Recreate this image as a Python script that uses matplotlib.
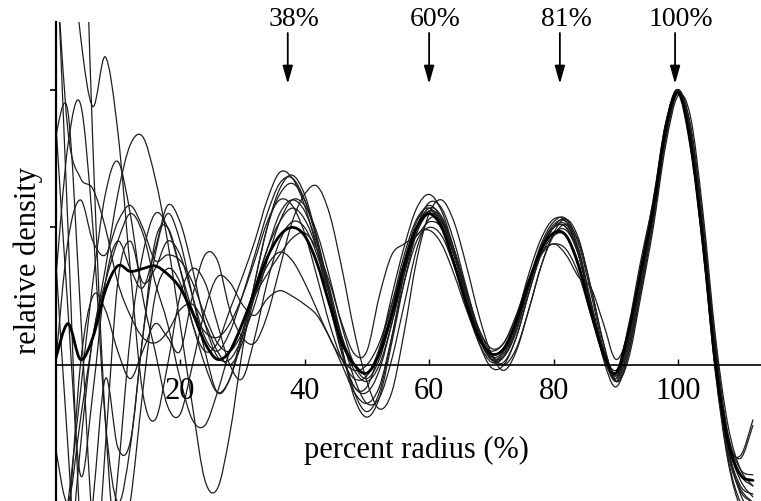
import numpy as np
import matplotlib
matplotlib.use('Agg')
import matplotlib.pyplot as plt
from matplotlib.path import Path
from matplotlib.patches import PathPatch

plt.rcParams['font.family'] = ['Liberation Serif', 'DejaVu Serif']

# sample positions (percent radius)
radius = np.arange(0, 113, 2)

# individual density profiles (every 2 %)
c01 = [1.6, 0.5, -0.6, -0.9, -0.3, 0.3, 0.45, 0.30, 0.35, 0.45, 0.40, 0.25, 0.10, 0.05, 0.12, 0.25,
       0.40, 0.55, 0.66, 0.68, 0.60, 0.45, 0.25, 0.05, -0.08, -0.08, 0.05, 0.25, 0.43, 0.57, 0.62, 0.56,
       0.42, 0.25, 0.10, 0.02, 0.05, 0.17, 0.33, 0.46, 0.53, 0.52, 0.40, 0.20, 0.03, -0.05, 0.10, 0.33,
       0.58, 0.87, 1.0, 0.82, 0.44, -0.02, -0.32, -0.46, -0.50]
c02 = [2.0, 1.7, 1.2, 0.94, 1.12, 0.85, 0.35, -0.10, -0.20, 0.00, 0.25, 0.35, 0.30, 0.15, 0.00, -0.05,
       0.10, 0.30, 0.45, 0.52, 0.50, 0.40, 0.25, 0.10, 0.00, -0.03, 0.05, 0.20, 0.38, 0.52, 0.58, 0.53,
       0.40, 0.24, 0.10, 0.03, 0.05, 0.15, 0.30, 0.43, 0.50, 0.50, 0.40, 0.22, 0.05, -0.02, 0.10, 0.33,
       0.57, 0.86, 1.0, 0.84, 0.47, 0.03, -0.28, -0.42, -0.48]
c03 = [3.0, 3.0, 2.2, 0.8, -0.2, -0.7, -0.5, -0.1, 0.25, 0.35, 0.30, 0.15, 0.00, -0.10, -0.05, 0.10,
       0.30, 0.50, 0.64, 0.69, 0.62, 0.46, 0.26, 0.06, -0.10, -0.17, -0.10, 0.10, 0.33, 0.50, 0.59, 0.57,
       0.45, 0.28, 0.12, 0.02, 0.01, 0.10, 0.26, 0.41, 0.50, 0.53, 0.44, 0.26, 0.06, -0.05, 0.06, 0.28,
       0.54, 0.83, 0.99, 0.86, 0.50, 0.06, -0.25, -0.38, -0.40]
c04 = [1.5, 0.85, 0.68, 0.64, 0.50, 0.30, 0.18, 0.10, 0.08, 0.12, 0.20, 0.22, 0.15, 0.05, 0.00, 0.08,
       0.25, 0.36, 0.41, 0.38, 0.30, 0.20, 0.10, 0.02, -0.02, 0.00, 0.08, 0.22, 0.37, 0.47, 0.49, 0.44,
       0.33, 0.20, 0.09, 0.05, 0.08, 0.18, 0.31, 0.41, 0.44, 0.42, 0.33, 0.18, 0.04, -0.03, 0.14, 0.38,
       0.60, 0.88, 0.99, 0.79, 0.42, -0.03, -0.35, -0.52, -0.58]
c05 = [0.83, 0.92, 0.2, -0.6, -0.8, -0.4, 0.1, 0.40, 0.55, 0.50, 0.35, 0.20, 0.12, 0.10, 0.15, 0.25,
       0.38, 0.52, 0.60, 0.58, 0.48, 0.32, 0.15, 0.02, -0.05, -0.04, 0.06, 0.22, 0.40, 0.53, 0.57, 0.51,
       0.37, 0.21, 0.08, 0.01, 0.03, 0.14, 0.29, 0.43, 0.51, 0.52, 0.42, 0.23, 0.05, -0.04, 0.09, 0.32,
       0.56, 0.85, 1.0, 0.83, 0.46, 0.01, -0.30, -0.44, -0.47]
c06 = [0.3, 0.8, 0.95, 0.5, -0.2, -0.5, -0.3, 0.1, 0.4, 0.55, 0.45, 0.25, 0.05, -0.10, -0.05, 0.12,
       0.28, 0.42, 0.52, 0.57, 0.53, 0.42, 0.26, 0.10, -0.02, -0.06, 0.00, 0.15, 0.33, 0.48, 0.55, 0.52,
       0.40, 0.25, 0.11, 0.04, 0.06, 0.16, 0.30, 0.42, 0.48, 0.49, 0.40, 0.22, 0.04, -0.06, 0.06, 0.30,
       0.55, 0.86, 1.0, 0.85, 0.48, 0.04, -0.28, -0.33, -0.20]
c07 = [-0.3, -0.5, -0.2, 0.1, 0.35, 0.62, 0.80, 0.83, 0.68, 0.45, 0.15, -0.15, -0.42, -0.45, -0.25, 0.05,
       0.30, 0.50, 0.62, 0.66, 0.60, 0.46, 0.27, 0.06, -0.12, -0.19, -0.12, 0.08, 0.30, 0.48, 0.56, 0.53,
       0.42, 0.27, 0.12, 0.03, 0.03, 0.12, 0.28, 0.42, 0.50, 0.50, 0.40, 0.22, 0.05, -0.03, 0.10, 0.32,
       0.56, 0.86, 1.0, 0.83, 0.46, 0.02, -0.30, -0.47, -0.55]
c08 = [-0.8, -0.5, -0.1, 0.3, 0.62, 0.74, 0.55, 0.25, 0.05, -0.15, -0.18, 0.0, 0.20, 0.32, 0.30, 0.22,
       0.18, 0.24, 0.27, 0.25, 0.22, 0.18, 0.10, 0.0, -0.10, -0.14, -0.08, 0.10, 0.30, 0.45, 0.50, 0.47,
       0.36, 0.22, 0.08, -0.01, 0.00, 0.10, 0.26, 0.40, 0.47, 0.47, 0.37, 0.20, 0.03, -0.05, 0.08, 0.31,
       0.56, 0.86, 1.0, 0.82, 0.45, 0.0, -0.32, -0.45, -0.50]
c09 = [0.4, -0.3, -0.9, -0.5, -0.05, -0.30, -0.28, 0.10, 0.45, 0.50, 0.35, 0.15, 0.05, 0.08, 0.20, 0.32,
       0.45, 0.60, 0.70, 0.68, 0.58, 0.42, 0.22, 0.04, -0.08, -0.10, -0.02, 0.15, 0.35, 0.50, 0.57, 0.54,
       0.42, 0.26, 0.11, 0.02, 0.03, 0.13, 0.28, 0.42, 0.50, 0.51, 0.41, 0.22, 0.04, -0.04, 0.08, 0.32,
       0.57, 0.87, 1.0, 0.84, 0.46, 0.02, -0.28, -0.40, -0.42]
c10 = [-1.0, -0.6, 0.0, 0.25, 0.2, 0.05, -0.05, 0.05, 0.15, 0.10, 0.05, 0.25, 0.40, 0.38, 0.20, 0.10,
       0.08, 0.18, 0.35, 0.52, 0.62, 0.65, 0.55, 0.35, 0.12, -0.06, -0.16, -0.10, 0.12, 0.38, 0.55, 0.60,
       0.52, 0.36, 0.18, 0.04, -0.02, 0.05, 0.20, 0.36, 0.48, 0.53, 0.46, 0.28, 0.08, -0.06, 0.02, 0.25,
       0.50, 0.80, 0.98, 0.90, 0.55, 0.10, -0.22, -0.38, -0.44]
c11 = [-1.2, -0.8, -0.3, 0.1, 0.3, 0.45, 0.55, 0.48, 0.30, 0.15, -0.05, -0.20, -0.22, -0.1, 0.05, 0.15,
       0.28, 0.42, 0.55, 0.60, 0.56, 0.44, 0.28, 0.10, -0.05, -0.14, -0.12, 0.02, 0.22, 0.42, 0.53, 0.52,
       0.42, 0.27, 0.13, 0.04, 0.00, 0.06, 0.20, 0.36, 0.47, 0.51, 0.45, 0.28, 0.08, -0.06, 0.04, 0.27,
       0.52, 0.82, 0.99, 0.87, 0.52, 0.08, -0.26, -0.34, -0.22]
c12 = [0.0, 0.45, 0.6, 0.45, 0.40, 0.52, 0.58, 0.50, 0.38, 0.40, 0.38, 0.30, 0.18, 0.08, 0.05, 0.12,
       0.25, 0.33, 0.40, 0.46, 0.48, 0.42, 0.30, 0.15, 0.04, 0.05, 0.25, 0.40, 0.44, 0.47, 0.52, 0.50,
       0.40, 0.26, 0.13, 0.06, 0.08, 0.18, 0.31, 0.40, 0.44, 0.40, 0.32, 0.28, 0.15, 0.02, 0.12, 0.36,
       0.60, 0.88, 1.0, 0.80, 0.42, -0.02, -0.34, -0.50, -0.55]
c13 = [0.9, 0.2, -0.4, -0.1, 0.30, 0.45, 0.35, 0.28, 0.42, 0.58, 0.52, 0.35, 0.15, 0.03, 0.02, 0.10,
       0.22, 0.38, 0.52, 0.60, 0.58, 0.48, 0.32, 0.14, 0.0, -0.05, 0.02, 0.18, 0.36, 0.50, 0.56, 0.52,
       0.40, 0.24, 0.10, 0.02, 0.04, 0.15, 0.30, 0.44, 0.52, 0.53, 0.42, 0.22, 0.02, -0.08, 0.04, 0.28,
       0.54, 0.84, 1.0, 0.86, 0.50, 0.05, -0.26, -0.40, -0.44]

# average profile (thick line)
mean_profile = [0.02, 0.15, 0.02, 0.10, 0.27, 0.36, 0.34, 0.35, 0.36, 0.33, 0.28, 0.19, 0.08, 0.02, 0.05, 0.15,
                0.27, 0.39, 0.47, 0.50, 0.47, 0.37, 0.22, 0.08, 0.00, -0.03, 0.04, 0.18, 0.36, 0.50, 0.55, 0.50,
                0.37, 0.22, 0.10, 0.04, 0.06, 0.16, 0.30, 0.42, 0.48, 0.47, 0.36, 0.19, 0.04, -0.03, 0.12, 0.34,
                0.57, 0.86, 0.99, 0.80, 0.44, 0.00, -0.28, -0.40, -0.42]

profiles = [c01, c02, c03, c04, c05, c06, c07, c08, c09, c10, c11, c12, c13]

# axis ticks and annotations
x_ticks = [20, 40, 60, 80, 100]
x_tick_labels = ['20', '40', '60', '80', '100']
y_ticks = [0.5, 1.0]
arrow_pos = [37.3, 60.0, 81.0, 99.5]
arrow_labels = ['38%', '60%', '81%', '100%']

for p in profiles:
    assert len(p) == len(radius), len(p)
assert len(mean_profile) == len(radius)


def smooth_path(xs, ys):
    """Cubic Bezier path through the measured points (Catmull-Rom tangents)."""
    xs = np.asarray(xs, float)
    ys = np.asarray(ys, float)
    pts = np.column_stack([xs, ys])
    ext = np.vstack([pts[0], pts, pts[-1]])
    verts = [pts[0]]
    codes = [Path.MOVETO]
    for i in range(len(pts) - 1):
        p0, p1, p2, p3 = ext[i], ext[i + 1], ext[i + 2], ext[i + 3]
        c1 = p1 + (p2 - p0) / 6.0
        c2 = p2 - (p3 - p1) / 6.0
        verts += [c1, c2, p2]
        codes += [Path.CURVE4] * 3
    return Path(verts, codes)


fig = plt.figure(figsize=(7.61, 5.01), dpi=100)
ax = fig.add_axes([55.5 / 761, 0.0, (761 - 55.5) / 761, (501 - 22) / 501])
ax.set_xlim(0, 113.3)
ax.set_ylim(-0.495, 1.247)

for p in profiles:
    ax.add_patch(PathPatch(smooth_path(radius, p), fill=False,
                           edgecolor='#1e1e1e', lw=0.9, capstyle='round', joinstyle='round'))
ax.add_patch(PathPatch(smooth_path(radius, mean_profile), fill=False,
                       edgecolor='black', lw=2.0, capstyle='round', joinstyle='round'))

for s in ['top', 'right']:
    ax.spines[s].set_visible(False)
ax.spines['bottom'].set_position(('data', 0))
ax.spines['bottom'].set_linewidth(1.2)
ax.spines['left'].set_linewidth(1.6)

ax.set_xticks(x_ticks)
ax.set_xticklabels(x_tick_labels)
ax.tick_params(axis='x', direction='in', length=4, width=1, pad=9, labelsize=22)
ax.set_yticks(y_ticks)
ax.set_yticklabels([])
ax.tick_params(axis='y', direction='out', length=4, width=1.2)

ax.text(58, -0.31, 'percent radius (%)', ha='center', va='center', fontsize=22)
fig.text(28 / 761, 1 - 260 / 501, 'relative density', rotation=90,
         ha='center', va='center', fontsize=22)

for xp, lab in zip(arrow_pos, arrow_labels):
    ax.annotate('', xy=(xp, 1.022), xytext=(xp, 1.207),
                arrowprops=dict(arrowstyle='-|>,head_length=0.6,head_width=0.17',
                                color='black', lw=1.3, mutation_scale=18,
                                shrinkA=0, shrinkB=0),
                annotation_clip=False)
    ax.text(xp + 1.0, 1.255, lab, ha='center', va='center', fontsize=20, clip_on=False)

fig.savefig('out.png', dpi=100)
